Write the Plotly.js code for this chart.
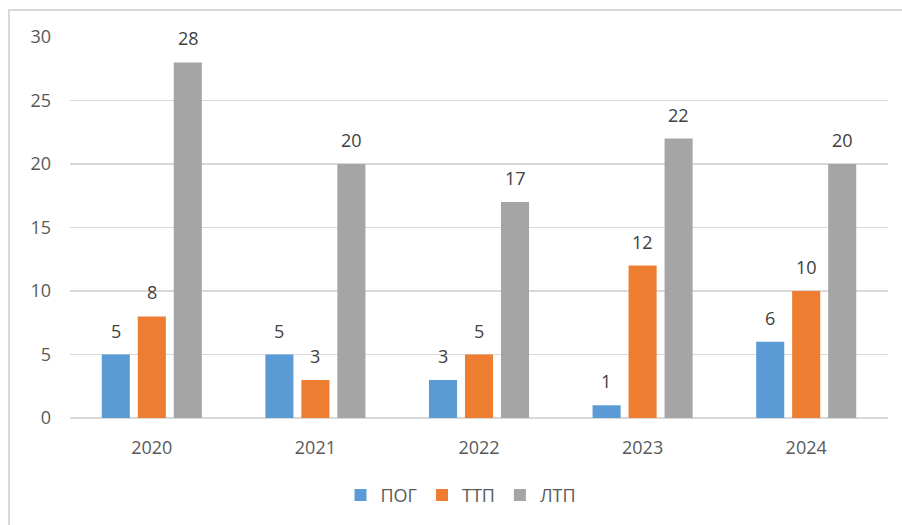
<!DOCTYPE html>
<html>
<head>
<meta charset="utf-8">
<script src="https://cdn.plot.ly/plotly-3.0.1.min.js"></script>
<style>html,body{margin:0;padding:0;background:#fff;}#chart{width:902px;height:525px;}</style>
</head>
<body>
<div id="chart"></div>
<script>
const years = ['2020', '2021', '2022', '2023', '2024'];
const seriesNames = ['ПОГ', 'ТТП', 'ЛТП'];
const pog = [5, 5, 3, 1, 6];
const ttp = [8, 3, 5, 12, 10];
const ltp = [28, 20, 17, 22, 20];
const yTicks = [0, 5, 10, 15, 20, 25, 30];

const colors = ['#5B9BD5', '#ED7D31', '#A5A5A5'];
const values = [pog, ttp, ltp];
const FONT = '"Open Sans", "DejaVu Sans", sans-serif';

const traces = values.map((v, i) => ({
  type: 'bar',
  name: seriesNames[i],
  x: years,
  y: v,
  marker: {color: colors[i]},
  hoverinfo: 'x+y+name'
}));

const annotations = [];
values.forEach((v, i) => {
  v.forEach((val, k) => {
    annotations.push({
      x: k, y: val, xref: 'x', yref: 'y',
      text: String(val), showarrow: false,
      xanchor: 'center', yanchor: 'bottom',
      xshift: (i - 1) * 36.3, yshift: 10,
      font: {family: FONT, size: 18, color: '#404040'}
    });
  });
});

const layout = {
  width: 902, height: 525,
  margin: {l: 70, r: 14, t: 37, b: 106},
  paper_bgcolor: '#ffffff', plot_bgcolor: '#ffffff',
  barmode: 'group', bargap: 0.34, bargroupgap: 0.22,
  showlegend: true,
  legend: {
    orientation: 'h', x: 0.478, xanchor: 'center', y: -0.2, yanchor: 'middle',
    font: {family: FONT, size: 18, color: '#595959'},
    traceorder: 'normal', itemgap: 18
  },
  xaxis: {
    type: 'category', range: [-0.5, 4.5], autorange: false,
    categoryorder: 'array', categoryarray: years,
    showgrid: false, showline: false, zeroline: false,
    ticks: '', ticklabelstandoff: 17,
    tickfont: {family: FONT, size: 18, color: '#595959'}
  },
  yaxis: {
    range: [0, 30], autorange: false, tickvals: yTicks, ticktext: yTicks.map(String),
    showgrid: true, gridcolor: '#D9D9D9', gridwidth: 1.5,
    zeroline: true, zerolinecolor: '#D9D9D9', zerolinewidth: 1.5,
    showline: false, ticks: '', ticklabelstandoff: 18,
    tickfont: {family: FONT, size: 18, color: '#595959'}
  },
  annotations: annotations,
  shapes: [{
    type: 'rect', xref: 'paper', yref: 'paper',
    x0: (9 - 70) / 818, x1: (904 - 70) / 818,
    y0: (419 - 530) / 382, y1: (419 - 10) / 382,
    line: {color: '#D9D9D9', width: 2}, fillcolor: 'rgba(0,0,0,0)', layer: 'below'
  }]
};

Plotly.newPlot('chart', traces, layout, {displayModeBar: false, staticPlot: true});
</script>
</body>
</html>
